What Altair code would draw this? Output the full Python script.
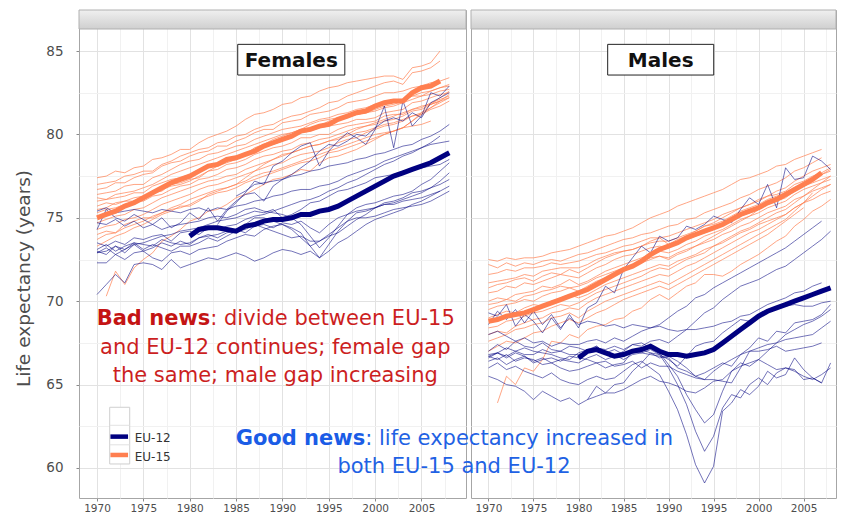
import altair as alt
import pandas as pd

# ---------------------------------------------------------------- data
# each series: (first year, yearly values)
female_eu15 = {
    "F01": (1970, [77.4,77.5,77.8,77.7,78.0,78.1,78.5,78.6,78.8,79.1,79.1,79.5,79.8,80.0,80.2,80.5,80.9,81.2,81.3,81.5,81.8,81.9,82.2,82.3,82.6,82.8,82.9,83.1,83.2,83.3,83.4,83.5,83.5,83.3,84.0,84.1,84.3,85.0]),
    "F02": (1970, [77.0,77.1,77.2,77.5,77.6,77.8,77.8,78.2,78.4,78.7,78.9,79.1,79.2,79.5,79.6,79.9,80.0,80.3,80.5,80.6,80.9,81.1,81.2,81.4,81.6,81.9,82.0,82.3,82.5,82.7,82.9,83.1,83.2,83.0,83.7,83.8,84.0,84.4]),
    "F03": (1970, [76.7,76.8,77.1,77.1,77.4,77.6,77.7,78.1,78.3,78.4,78.7,78.9,79.0,79.3,79.3,79.6,79.8,80.1,80.3,80.3,80.7,80.8,80.9,81.2,81.3,81.4,81.6,81.9,82.0,82.1,82.3,82.5,82.5,82.6,82.8,82.9,83.1,83.2,83.4]),
    "F04": (1970, [76.4,76.5,76.6,76.9,77.0,77.0,77.4,77.6,77.9,78.2,78.4,78.5,78.8,78.9,79.1,79.3,79.4,79.7,79.9,80.1,80.3,80.4,80.5,80.7,80.9,81.0,81.2,81.3,81.5,81.6,81.8,81.9,82.0,82.1,82.3,82.5,82.6,82.8,82.9]),
    "F05": (1970, [76.2,76.1,76.4,76.5,76.6,76.8,77.0,77.3,77.6,77.8,78.0,78.2,78.4,78.6,78.8,79.0,79.2,79.4,79.6,79.8,80.0,80.1,80.3,80.4,80.5,80.8,80.9,81.0,81.2,81.3,81.4,81.6,81.7,81.9,82.1,82.3,82.4,82.6,82.7]),
    "F06": (1970, [76.0,76.1,76.2,76.3,76.5,76.5,76.9,77.1,77.3,77.4,77.6,77.9,78.1,78.3,78.5,78.6,78.8,79.1,79.3,79.4,79.6,79.9,80.1,80.2,80.4,80.5,80.6,80.7,80.9,80.9,81.0,81.3,81.4,81.5,81.9,82.0,82.2,82.4,82.5]),
    "F07": (1970, [75.7,75.9,75.8,76.0,76.2,76.3,76.5,76.6,77.0,77.1,77.3,77.4,77.8,77.9,78.2,78.3,78.5,78.8,79.0,79.2,79.3,79.5,79.8,79.8,80.0,80.0,80.3,80.5,80.6,80.7,80.8,81.1,81.2,81.2,81.5,81.6,81.9,82.1,82.3]),
    "F08": (1970, [75.3,75.5,75.6,75.8,76.0,76.0,76.3,76.4,76.7,76.9,77.0,77.3,77.4,77.6,77.9,78.0,78.2,78.5,78.7,78.8,79.0,79.1,79.4,79.5,79.7,79.8,80.0,80.2,80.4,80.5,80.6,80.8,80.9,81.1,81.4,81.5,81.8,82.0,82.2]),
    "F09": (1970, [74.7,74.9,75.1,75.2,75.5,75.6,75.9,76.2,76.4,76.6,76.8,77.0,77.2,77.3,77.5,77.6,77.9,78.1,78.3,78.5,78.7,78.9,79.1,79.3,79.4,79.6,79.7,79.9,80.1,80.2,80.4,80.6,80.7,80.9,81.1,81.2,81.5,81.7,82.0]),
    "F10": (1970, [74.3,74.5,74.6,74.9,75.0,75.2,75.5,75.8,76.0,76.2,76.4,76.7,76.9,77.0,77.2,77.4,77.6,77.8,78.0,78.2,78.3,78.6,78.8,78.9,79.0,79.2,79.5,79.7,79.8,80.1,80.3,80.5,80.6,80.8,81.1,81.3,81.8,82.2,82.6]),
    "F11": (1970, [73.7,74.0,74.1,74.4,74.6,74.8,75.1,75.3,75.6,75.8,76.1,76.3,76.5,76.7,76.8,77.0,77.2,77.5,77.7,77.8,78.0,78.2,78.4,78.6,78.8,79.0,79.2,79.4,79.6,79.8,80.0,80.1,80.2,80.4,80.5,80.6,80.8]),
    "F12": (1970, [74.0,74.2,74.1,74.6,74.8,75.0,75.0,75.3,75.5,75.6,75.8,76.1,76.3,76.5,76.6,76.8,77.1,77.3,77.5,77.7,77.9,78.1,78.3,78.4,78.6,78.9,79.0,79.2,79.4,79.6,79.8,80.0,80.2,80.4,80.8,81.2,81.6,82.0,82.4]),
    "F13": (1971, [70.3,71.8,71.0,72.0,72.5,72.9,73.6,73.9,74.3,74.8,75.0,75.4,75.5,75.8,76.2,76.4,76.7,77.0,77.3,77.4,77.6,77.9,77.8,78.3,78.6,78.7,78.9,79.1,79.4,79.7,80.0,80.2,80.4,80.8,81.3,81.6,81.9,82.2]),
    "F14": (1970, [75.5,75.6,75.9,76.0,76.0,76.2,76.5,76.7,76.9,77.0,77.2,77.5,77.8,78.1,78.3,78.5,78.8,79.2,79.4,79.7,79.9,80.1,80.3,80.6,80.8,80.9,81.0,81.1,81.2,81.3,81.5,81.7,81.8,82.0,82.3,82.3,82.6,82.8,83.0]),
    "F15": (1970, [73.3,73.6,73.9,74.1,74.4,74.6,74.9,75.2,75.4,75.7,75.7,76.0,76.4,76.6,76.8,77.0,77.4,77.8,78.2,78.5,78.8,78.9,79.1,79.3,79.4,79.6,79.8,80.0,80.3,80.5,80.7,80.9,81.1,81.3,81.5,81.7,81.8,82.0]),
}
female_eu12 = {
    "N01": (1970, [75.4,75.6,75.3,75.4,75.5,75.4,75.3,75.5,75.4,75.3,75.5,75.6,75.4,75.6,75.5,75.7,75.8,76.0,76.1,76.3,76.4,76.6,76.7,76.7,76.9,77.0,77.2,77.5,77.7,77.9,78.1,78.4,78.6,78.8,79.0,79.2,79.4,79.5,79.6]),
    "N02": (1985, [76.3,76.6,77.0,77.1,77.2,77.3,77.5,77.6,77.8,77.9,78.1,78.2,78.3,78.5,78.6,78.8,78.9,79.1,79.3,79.4,79.7,79.9,80.2,80.6]),
    "N03": (1983, [74.6,75.4,75.9,76.5,77.2,77.0,78.1,78.4,78.9,79.3,79.5,78.1,79.0,79.6,80.1,79.8,79.4,80.3,81.7,79.2,82.0,80.5,81.1,82.5,82.3,82.9]),
    "N04": (1970, [74.3,75.5,75.0,74.8,75.2,74.9,74.6,75.0,74.4,74.7,75.3,74.9,75.6,74.8,75.5,76.0,76.4,76.5,76.0,76.9,77.3,77.6,78.0,78.4,79.0,79.4,79.3,79.6,80.0,79.9,80.4,80.8,81.0,80.8,81.3,81.0,81.9,82.2,82.5]),
    "N05": (1970, [73.5,73.3,73.6,73.4,73.8,73.7,73.9,74.0,73.6,74.1,74.2,74.0,74.4,74.3,74.5,74.6,74.9,75.1,75.2,75.4,75.6,75.8,76.0,76.1,76.3,76.6,76.8,77.1,77.3,77.6,77.9,78.2,78.4,78.7,78.9,79.2,79.5,79.9]),
    "N06": (1970, [74.7,74.6,74.9,74.5,74.8,74.4,74.6,74.3,74.5,74.6,74.7,74.8,75.0,75.1,75.0,75.2,75.5,75.6,75.4,75.3,75.2,75.0,74.6,73.9,73.2,73.8,74.5,75.2,75.6,75.8,75.9,76.1,76.3,76.4,76.6,77.0,77.3,77.8,78.3]),
    "N07": (1970, [73.1,73.4,73.0,73.3,73.5,73.1,73.4,73.2,73.0,73.3,73.3,73.5,73.8,73.6,73.9,74.2,74.6,75.0,75.0,74.8,74.6,74.4,74.1,73.3,72.6,73.4,74.2,74.8,75.3,75.4,75.6,75.8,75.9,76.1,76.3,76.5,76.8,77.2,77.7]),
    "N08": (1970, [72.9,73.2,72.8,73.1,73.4,73.0,73.2,73.5,73.3,73.6,73.4,73.8,73.9,74.0,74.2,74.3,74.1,74.5,74.6,74.4,74.7,74.6,74.8,74.4,74.1,74.6,75.0,75.2,75.4,75.5,75.6,75.9,76.0,76.2,76.5,76.6,76.8,77.0,77.3]),
    "N09": (1970, [70.4,71.0,71.6,71.1,72.2,72.3,72.2,71.9,72.5,72.0,72.2,72.4,72.6,72.5,72.7,72.9,72.7,72.4,72.6,72.9,73.1,73.0,72.8,73.0,72.6,73.0,73.5,73.8,74.2,74.6,74.9,75.1,75.3,75.5,75.8,76.0,76.3,76.6]),
    "N10": (1970, [72.3,72.3,72.8,72.5,72.9,73.0,72.6,72.4,72.9,73.0,72.8,73.1,73.2,73.3,73.6,73.8,74.0,73.9,74.3,74.5,74.6,74.3,73.8,73.3,73.6,73.9,74.1,74.5,74.9,75.2,75.6,75.8,75.8,76.0,76.1,76.2,76.4,76.6,76.9]),
    "N11": (1970, [73.0,72.8,73.3,73.1,73.5,73.4,73.3,73.7,73.5,73.4,73.5,73.8,74.0,73.8,74.1,74.2,74.3,74.6,74.4,74.2,74.0,73.8,73.9,73.6,73.6,74.0,74.4,74.8,75.0,75.0,75.1,75.3,75.5,75.6,75.7,75.8,76.0,76.3,76.6]),
    "N12": (1970, [72.9,73.0,73.3,72.9,73.4,73.5,73.7,73.9,74.0,74.2,74.3,74.4,74.6,74.8,74.9,75.0,75.2,75.4,75.3,75.5,75.0,75.2,75.5,75.9,76.0,76.3,76.6,76.7,76.9,77.1,77.4,77.5,77.6,77.8,77.9,78.0,78.1,78.2,78.5]),
}
male_eu15 = {
    "M01": (1970, [72.5,72.4,72.6,72.5,72.6,72.6,72.7,72.9,73.0,73.1,73.3,73.5,73.7,73.9,74.0,74.2,74.4,74.7,75.0,75.2,75.4,75.7,75.9,76.1,76.3,76.5,76.7,77.0,77.3,77.4,77.6,77.8,78.1,78.2,78.5,78.7,78.9,79.1]),
    "M02": (1970, [72.2,72.0,72.3,72.1,72.3,72.2,72.4,72.5,72.4,72.6,72.8,72.9,73.1,73.3,73.5,73.7,73.8,74.0,74.1,74.3,74.5,74.6,74.9,75.0,75.3,75.5,75.7,75.9,76.2,76.4,76.7,76.9,77.1,77.4,77.8,78.0,78.3,78.6]),
    "M03": (1970, [71.6,71.7,71.9,71.8,72.0,72.0,72.1,72.3,72.2,72.3,72.4,72.6,72.8,72.9,73.1,73.3,73.4,73.6,73.8,73.8,73.9,74.1,74.3,74.5,74.7,74.9,75.2,75.4,75.6,75.8,76.1,76.3,76.4,76.6,77.0,77.2,77.5,77.7,78.0]),
    "M04": (1970, [71.1,71.2,71.3,71.4,71.6,71.5,71.8,71.9,72.0,72.0,72.0,72.2,72.5,72.7,72.9,73.0,73.1,73.3,73.5,73.6,73.6,73.8,74.0,74.2,74.5,74.6,74.8,75.1,75.4,75.6,75.8,76.1,76.3,76.5,76.8,77.0,77.3,77.6,77.8]),
    "M05": (1970, [70.5,70.6,70.9,70.8,71.1,71.0,71.2,71.4,71.6,71.5,71.4,71.7,72.0,72.2,72.5,72.7,72.8,73.0,73.2,73.3,73.2,73.5,73.7,73.9,74.1,74.3,74.6,74.9,75.1,75.3,75.5,75.8,76.0,76.2,76.6,76.9,77.1,77.3,77.5]),
    "M06": (1970, [70.0,70.2,70.1,70.4,70.5,70.6,70.9,70.8,71.0,71.3,71.0,71.2,71.5,71.8,72.0,72.2,72.4,72.6,72.8,73.0,72.9,73.1,73.4,73.6,73.9,74.1,74.3,74.6,74.9,75.1,75.3,75.6,75.8,76.0,76.4,76.7,76.9,77.1,77.3]),
    "M07": (1970, [69.5,69.7,69.8,69.9,70.1,70.0,70.3,70.5,70.6,70.8,70.6,70.9,71.2,71.4,71.6,71.9,72.1,72.3,72.5,72.7,72.6,72.9,73.1,73.3,73.5,73.7,74.0,74.2,74.5,74.7,75.0,75.3,75.5,75.7,76.1,76.3,76.6,76.8,77.0]),
    "M08": (1970, [69.0,69.2,69.4,69.3,69.6,69.8,69.7,70.0,70.2,70.4,70.2,70.4,70.7,71.0,71.2,71.4,71.6,71.8,72.0,72.2,72.1,72.4,72.6,72.8,73.1,73.3,73.5,73.8,74.1,74.3,74.6,74.8,75.0,75.2,75.6,75.9,76.1,76.4,76.6]),
    "M09": (1970, [68.4,68.5,68.8,68.9,69.1,69.3,69.4,69.6,69.8,69.7,69.9,70.2,70.5,70.7,70.9,71.1,71.3,71.5,71.8,72.0,71.9,72.2,72.5,72.7,72.9,73.3,73.6,73.9,74.2,74.4,74.7,75.0,75.3,75.5,75.9,76.3,76.7,77.1,77.5]),
    "M10": (1970, [68.0,68.2,68.1,68.5,68.7,68.9,69.0,69.3,69.4,69.6,69.5,69.9,70.2,70.4,70.6,70.8,71.0,71.2,71.4,71.6,71.5,71.8,72.1,72.3,72.6,72.9,73.2,73.5,73.8,74.1,74.3,74.6,74.9,75.2,75.6,75.9,76.3,76.7,77.0]),
    "M11": (1970, [67.6,67.8,68.0,68.3,68.4,68.6,68.7,69.0,69.1,69.3,69.0,69.4,69.7,70.0,70.2,70.4,70.6,70.8,71.0,71.2,71.0,71.3,71.6,71.9,72.2,72.5,72.8,73.1,73.4,73.7,74.0,74.3,74.6,74.9,75.4,75.9,76.5]),
    "M12": (1970, [69.8,69.9,70.1,70.0,70.3,70.4,70.6,70.7,70.9,70.8,70.9,71.1,71.4,71.6,71.8,72.0,72.2,72.4,72.6,72.7,72.5,72.8,73.0,73.3,73.6,73.9,74.2,74.5,74.8,75.1,75.5,75.8,76.1,76.4,76.8,77.1,77.4,77.6,77.9]),
    "M13": (1971, [63.9,65.5,65.0,66.0,65.8,66.5,67.6,67.5,68.0,67.8,68.3,68.5,68.6,68.9,69.0,69.4,69.6,70.1,70.4,70.1,70.5,70.9,71.1,71.6,71.6,71.5,71.8,72.2,72.5,72.8,73.2,73.6,73.9,74.5,74.9,75.4,75.7,76.1]),
    "M14": (1970, [70.8,71.0,71.1,71.3,71.4,71.2,71.5,71.7,71.6,71.9,71.7,72.0,72.3,72.6,72.8,73.0,73.1,73.3,73.6,73.8,73.4,73.7,73.9,74.2,74.5,74.7,75.0,75.3,75.6,75.8,76.0,76.3,76.6,76.8,77.2,77.5,77.8,78.0,78.2]),
    "M15": (1970, [67.0,67.3,67.6,67.5,67.8,68.1,68.2,68.5,68.7,68.9,68.7,69.0,69.3,69.5,69.8,70.1,70.3,70.5,70.7,70.9,70.7,71.0,71.3,71.6,71.9,72.2,72.5,72.8,73.1,73.4,73.7,74.0,74.4,74.8,75.2,75.6]),
}
male_eu12 = {
    "P01": (1970, [69.3,69.1,69.8,68.5,69.2,68.8,68.1,69.0,68.3,69.2,68.4,69.6,69.9,70.9,70.5,71.9,72.6,73.3,72.9,73.9,73.6,73.8,74.5,74.3,74.6,75.1,74.9,74.7,75.5,76.2,75.8,77.0,75.6,78.0,77.3,77.4,78.7,78.4,77.9]),
    "P02": (1970, [68.0,68.2,67.9,67.6,67.8,67.5,67.6,67.3,67.5,67.4,67.4,67.6,67.7,67.5,67.8,67.6,67.9,68.2,68.4,68.6,69.0,69.4,69.7,70.2,70.4,70.8,71.1,71.4,71.7,72.0,72.3,72.6,72.9,73.2,73.6,74.0,74.4,74.8]),
    "P03": (1970, [66.6,66.9,66.7,67.0,66.8,66.8,67.1,66.9,67.0,66.8,66.8,67.0,67.2,67.1,67.3,67.1,67.4,67.3,67.6,67.7,67.5,67.9,68.3,68.8,69.3,69.6,70.1,70.5,70.9,71.1,71.3,71.6,71.9,72.1,72.5,72.9,73.3,73.7,74.2]),
    "P04": (1970, [68.6,69.4,68.9,69.5,68.7,69.4,68.6,69.2,68.4,69.0,68.6,68.8,68.7,68.5,68.6,68.4,68.6,68.5,68.4,68.5,68.3,68.2,68.3,68.3,68.4,68.5,68.7,68.8,69.1,69.2,69.5,69.8,70.0,70.2,70.5,70.6,70.9,71.1]),
    "P05": (1970, [66.7,66.9,67.2,67.0,67.2,67.0,66.9,66.8,66.6,66.5,66.9,67.1,67.3,66.9,66.8,66.5,66.8,66.9,67.1,66.8,66.5,66.1,66.7,67.3,67.5,67.6,68.1,68.5,68.9,68.8,69.2,69.5,69.6,69.7,69.8,69.7,69.7,69.9,70.0]),
    "P06": (1970, [66.4,66.6,66.2,66.5,66.7,66.3,66.5,66.6,66.4,66.7,66.6,66.5,66.3,66.4,66.1,66.2,66.4,66.0,66.3,66.1,66.1,65.8,65.6,65.4,65.3,65.8,66.2,66.5,66.8,67.0,67.2,67.4,67.5,67.7,67.8,67.9,68.0,68.4,68.8]),
    "P07": (1970, [67.0,67.4,67.1,67.6,67.3,67.2,67.5,67.1,67.0,67.3,67.2,67.0,67.3,66.9,67.1,66.8,67.0,66.9,66.8,66.7,66.6,66.0,65.8,65.5,65.3,65.3,65.2,65.1,66.0,67.0,67.0,67.1,67.3,67.0,67.1,67.2,67.3,67.5]),
    "P08": (1970, [66.0,66.3,65.9,66.1,65.8,65.6,65.4,65.7,65.3,65.1,65.0,65.3,65.5,65.3,65.4,65.8,66.2,66.4,66.0,65.6,64.6,63.5,62.0,60.2,59.1,60.1,63.4,63.9,64.7,64.4,64.9,65.8,65.4,65.6,66.6,65.9,65.4,65.1,66.3]),
    "P09": (1970, [66.7,66.5,66.8,66.4,66.6,66.5,66.2,66.3,66.0,65.8,65.9,66.1,66.3,66.0,66.2,66.3,67.0,67.1,66.9,66.8,66.0,65.0,63.8,62.2,61.0,61.9,63.6,64.4,64.2,65.0,65.4,65.0,65.7,66.0,65.9,65.3,65.4,65.1]),
    "P10": (1970, [66.8,66.9,66.6,66.9,66.7,66.4,66.6,66.3,66.5,66.4,66.3,66.6,66.8,66.5,66.7,67.0,67.4,67.5,67.2,66.9,66.2,65.5,64.4,63.5,62.7,63.2,64.6,65.8,66.3,66.1,66.5,66.2,65.9,66.0,65.8,65.5,65.3,65.6,66.0]),
    "P11": (1970, [65.5,65.3,65.0,64.9,64.6,64.1,64.6,64.3,64.0,64.2,63.8,64.1,64.3,64.5,64.5,64.7,65.0,65.3,65.5,65.2,65.1,64.9,64.6,64.5,64.8,65.2,65.3,65.8,66.1,66.3,66.5,67.0,67.5,68.0,68.3,68.6,68.8,69.1,69.5]),
    "P12": (1981, [64.1,64.9,64.5,65.0,65.1,65.8,66.3,66.9,66.6,66.7,66.4,66.0,65.5,65.7,66.0,66.3,66.1,66.8,67.2,67.8,67.6,68.2,68.1,68.7,68.8,68.9,69.2,69.8]),
}
female_eu15_mean = (1970, [75.0,75.2,75.4,75.7,75.9,76.2,76.5,76.8,77.1,77.3,77.5,77.8,78.1,78.2,78.5,78.6,78.8,79.0,79.3,79.5,79.7,79.9,80.2,80.3,80.5,80.6,80.9,81.1,81.3,81.4,81.7,81.9,82.0,82.0,82.5,82.8,82.9,83.2])
female_eu12_mean = (1980, [73.9,74.3,74.4,74.4,74.3,74.2,74.5,74.6,74.8,74.9,74.9,75.0,75.2,75.2,75.4,75.5,75.7,76.0,76.3,76.6,76.9,77.2,77.5,77.7,77.9,78.1,78.3,78.6,78.9])
male_eu15_mean = (1970, [68.8,68.9,69.1,69.2,69.3,69.5,69.7,69.9,70.1,70.3,70.5,70.7,71.0,71.3,71.6,71.9,72.1,72.4,72.8,73.1,73.3,73.5,73.8,74.0,74.2,74.4,74.6,74.9,75.2,75.4,75.6,75.9,76.1,76.4,76.7,77.0,77.3,77.7])
male_eu12_mean = (1980, [66.6,67.0,67.1,66.9,66.7,66.8,67.0,67.1,67.3,67.0,66.8,66.8,66.7,66.8,66.9,67.1,67.5,67.9,68.3,68.7,69.1,69.4,69.6,69.8,70.0,70.2,70.4,70.6,70.8])

panel_titles = ["Females", "Males"]
legend_labels = ["EU-12", "EU-15"]
x_grid = [1970, 1972.5, 1975, 1977.5, 1980, 1982.5, 1985, 1987.5, 1990, 1992.5, 1995, 1997.5, 2000, 2002.5, 2005, 2007.5]
y_grid = [60, 62.5, 65, 67.5, 70, 72.5, 75, 77.5, 80, 82.5, 85]

bad_news = ["Bad news", ": divide between EU-15", "and EU-12 continues; female gap", "the same; male gap increasing"]
good_news = ["Good news", ": life expectancy increased in", "both EU-15 and EU-12"]

# ---------------------------------------------------------------- styling
ORANGE = "#FF7F50"
NAVY = "#000080"
RED = "#CC1F1F"
BLUE = "#1F62E4"
FONT = "DejaVu Sans"
Y_DOMAIN = [58.2, 87.46]
STRIP = [86.32, 87.46]
VIEW_H = 488
GRID_COLOR = {"condition": {"test": "datum.value % 5 === 0", "value": "#e2e2e2"}, "value": "#f1f1f1"}
TICK_COLOR = {"condition": {"test": "datum.value % 5 === 0", "value": "#8a8a8a"}, "value": "rgba(0,0,0,0)"}
LABEL_EXPR = "datum.value % 5 === 0 ? datum.label : ''"


def to_long(series):
    rows = []
    for name, (start, vals) in series.items():
        for i, v in enumerate(vals):
            rows.append({"year": start + i, "le": v, "country": name})
    return pd.DataFrame(rows)


def panel(title, s15, s12, m15, m12, xdom, width, box, show_y, notes, legend):
    xaxis = alt.Axis(values=x_grid, labelExpr=LABEL_EXPR, format="d", gridColor=GRID_COLOR,
                     ticks=True, tickSize=3, tickColor=TICK_COLOR, domain=False,
                     labelFont=FONT, labelFontSize=10.5,
                     labelColor="#4d4d4d", labelPadding=2, labelFlush=False, title=None)
    yargs = dict(values=y_grid, labelExpr=LABEL_EXPR, gridColor=GRID_COLOR, domain=False,
                 labelFont=FONT, labelFontSize=13.5, labelColor="#4d4d4d",
                 labelPadding=13, labelFlush=False)
    if show_y:
        yargs.update(ticks=True, tickSize=3, tickColor=TICK_COLOR,
                     title="Life expectancy (years)", titleFont=FONT, titleFontSize=18.5,
                     titleFontWeight="normal", titleColor="#4d4d4d", titleX=-56, titleY=268,
                     titleAngle=270, titleAlign="center", titleBaseline="middle")
    else:
        yargs.update(ticks=False, labels=False, title=None)
    yaxis = alt.Axis(**yargs)
    xs = alt.Scale(domain=xdom, nice=False, zero=False)
    ys = alt.Scale(domain=Y_DOMAIN, nice=False, zero=False)

    def X(f):
        return alt.X(f"{f}:Q", scale=xs, axis=xaxis)

    def Y(f):
        return alt.Y(f"{f}:Q", scale=ys, axis=yaxis)

    strip_df = pd.DataFrame([{"x1": xdom[0], "x2": xdom[1], "y1": STRIP[0], "y2": STRIP[1]}])
    strip = alt.Chart(strip_df).mark_rect(
        fill=alt.Gradient(gradient="linear",
                          stops=[alt.GradientStop(color="#f0f0f0", offset=0),
                                 alt.GradientStop(color="#cfcfcf", offset=1)],
                          x1=0, x2=0, y1=0, y2=1),
        stroke="#b0b0b0", strokeWidth=1).encode(x=X("x1"), x2="x2:Q", y=Y("y1"), y2="y2:Q")

    layers = [strip]
    layers.append(alt.Chart(to_long(s15)).mark_line(color=ORANGE, strokeWidth=1, opacity=0.7, clip=True)
                  .encode(x=X("year"), y=Y("le"), detail="country:N"))
    layers.append(alt.Chart(to_long(s12)).mark_line(color=NAVY, strokeWidth=1, opacity=0.55, clip=True)
                  .encode(x=X("year"), y=Y("le"), detail="country:N"))
    layers.append(alt.Chart(to_long({"EU-15": m15})).mark_line(color=ORANGE, strokeWidth=5, clip=True)
                  .encode(x=X("year"), y=Y("le")))
    layers.append(alt.Chart(to_long({"EU-12": m12})).mark_line(color=NAVY, strokeWidth=5, clip=True)
                  .encode(x=X("year"), y=Y("le")))

    box_df = pd.DataFrame([{"x1": box[0], "x2": box[1], "y1": box[2], "y2": box[3],
                            "xm": (box[0] + box[1]) / 2, "yb": box[4], "t": title}])
    layers.append(alt.Chart(box_df).mark_rect(fill="white", stroke="#222222", strokeWidth=1)
                  .encode(x=X("x1"), x2="x2:Q", y=Y("y1"), y2="y2:Q"))
    layers.append(alt.Chart(box_df).mark_text(font=FONT, fontSize=20, fontWeight="bold",
                                              color="#111111", align="center", baseline="alphabetic")
                  .encode(x=X("xm"), y=Y("yb"), text="t:N"))

    if legend:
        lg = pd.DataFrame([{"x1": 1971.37, "x2": 1973.53, "y1": 60.24, "y2": 63.64}])
        layers.append(alt.Chart(lg).mark_rect(fill="white", stroke="#cfcfcf", strokeWidth=1)
                      .encode(x=X("x1"), x2="x2:Q", y=Y("y1"), y2="y2:Q"))
        sep = pd.DataFrame([{"x1": 1971.37, "x2": 1973.53, "y": 62.56},
                            {"x1": 1971.37, "x2": 1973.53, "y": 61.39}])
        layers.append(alt.Chart(sep).mark_rule(color="#e2e2e2", strokeWidth=1)
                      .encode(x=X("x1"), x2="x2:Q", y=Y("y")))
        keys = pd.DataFrame([{"x1": 1971.45, "x2": 1973.35, "y": 61.88, "yl": 61.54, "xl": 1974.07, "lab": legend_labels[0]},
                             {"x1": 1971.45, "x2": 1973.35, "y": 60.78, "yl": 60.44, "xl": 1974.07, "lab": legend_labels[1]}])
        layers.append(alt.Chart(keys).mark_rule(strokeWidth=4.5)
                      .encode(x=X("x1"), x2="x2:Q", y=Y("y"),
                              color=alt.Color("lab:N", scale=alt.Scale(domain=legend_labels, range=[NAVY, ORANGE]), legend=None)))
        layers.append(alt.Chart(keys).mark_text(font=FONT, fontSize=12, color="#333333",
                                                align="left", baseline="alphabetic")
                      .encode(x=X("xl"), y=Y("yl"), text="lab:N"))

    for (txt, xv, yv, align, weight, color) in notes:
        df = pd.DataFrame([{"xv": xv, "yv": yv, "t": txt}])
        layers.append(alt.Chart(df).mark_text(font=FONT, fontSize=21, fontWeight=weight, color=color,
                                              align=align, baseline="alphabetic")
                      .encode(x=X("xv"), y=Y("yv"), text="t:N"))

    return alt.layer(*layers).properties(width=width, height=VIEW_H)


# annotation positions, in each panel's own data coordinates
left_notes = [
    (bad_news[0], 1982.22, 68.56, "right", "bold", "#C41414"),
    (bad_news[1], 1982.22, 68.56, "left", "normal", RED),
    (bad_news[2], 1989.23, 66.86, "center", "normal", RED),
    (bad_news[3], 1989.23, 65.18, "center", "normal", RED),
]
right_notes = [
    (good_news[0], 1956.31, 61.40, "right", "bold", "#1A5CE6"),
    (good_news[1], 1956.31, 61.40, "left", "normal", BLUE),
    (good_news[2], 1966.17, 59.72, "center", "normal", BLUE),
]

left = panel(panel_titles[0], female_eu15, female_eu12, female_eu15_mean, female_eu12_mean,
             [1968.06, 2009.8], 387, (1985.18, 1996.73, 83.56, 85.40, 84.02), True, left_notes, True)
right = panel(panel_titles[1], male_eu15, male_eu12, male_eu15_mean, male_eu12_mean,
              [1968.06, 2008.6], 365, (1983.24, 1995.02, 83.56, 85.40, 84.02), False, right_notes, False)

chart = alt.hconcat(left, right, spacing=5, bounds="flush").properties(
    padding={"left": 5, "top": 1, "right": 0, "bottom": 0},
    background="white",
).configure_view(stroke="#a6a6a6", strokeWidth=1)

chart.save("out.html", embed_options={"renderer": "svg", "actions": False})
